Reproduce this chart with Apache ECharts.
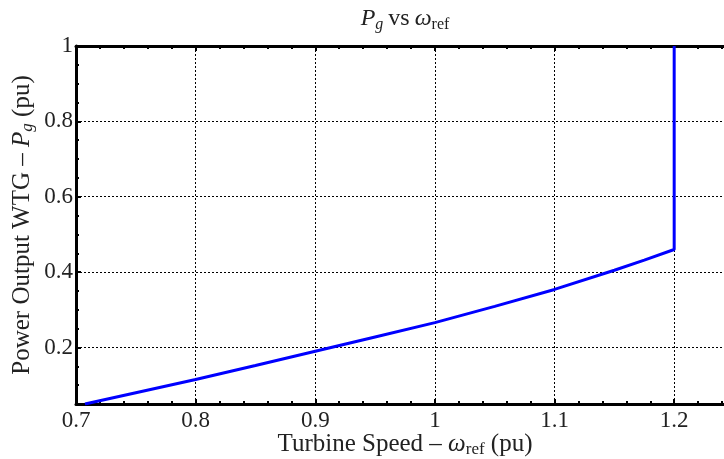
<!DOCTYPE html>
<html>
<head>
<meta charset="utf-8">
<script src="https://cdn.jsdelivr.net/npm/echarts@6/dist/echarts.min.js"></script>
<style>html,body{margin:0;padding:0;background:#fff;}#c{width:724px;height:459px;}</style>
</head>
<body>
<div id="c"></div>
<script>
// Turbine speed (pu) and generator power output (pu)
const speed = [0.7075, 0.75, 0.8, 0.85, 0.9, 0.95, 1.0, 1.05, 1.1, 1.15, 1.175, 1.2, 1.2];
const power = [0.05, 0.08, 0.115, 0.152, 0.19, 0.228, 0.266, 0.309, 0.354, 0.405, 0.432, 0.46, 1.0];
const xRange = [0.7, 1.25];
const yRange = [0.05, 1];

const FONT = 'Liberation Serif';
const data = speed.map((s, i) => [s, power[i]]);
const chart = echarts.init(document.getElementById('c'));
function mkRich(big, small, lh, slh) {
  return {
    n: {fontFamily: FONT, fontSize: big, fontWeight: 'normal', color: '#222', lineHeight: lh},
    i: {fontFamily: FONT, fontSize: big, fontWeight: 'normal', fontStyle: 'italic', color: '#222', lineHeight: lh},
    si: {fontFamily: FONT, fontSize: small, fontWeight: 'normal', fontStyle: 'italic', color: '#222', lineHeight: slh, verticalAlign: 'bottom'},
    s: {fontFamily: FONT, fontSize: small, fontWeight: 'normal', color: '#222', lineHeight: slh, verticalAlign: 'bottom'}
  };
}
const rich = mkRich(25, 17, 28, 15);
const axisLineStyle = {color: '#000', width: 3};
chart.setOption({
  animation: false,
  backgroundColor: '#fff',
  title: {
    text: '{i|P}{si|g} {n|vs} {i|ω}{s|ref}',
    left: 400, top: 0, textAlign: 'center',
    textStyle: {fontWeight: 'normal', rich: mkRich(24, 16, 28, 15)}
  },
  grid: {left: 76, top: 46, bottom: 55, right: -10, containLabel: false, outerBoundsMode: 'none'},
  xAxis: [{
    type: 'value', min: xRange[0], max: xRange[1], interval: 0.1,
    name: '{n|Turbine Speed – }{i|ω}{s|ref}{n| (pu)}',
    nameLocation: 'middle', nameGap: 26, nameMoveOverlap: false,
    nameTextStyle: {rich: rich},
    axisLine: {lineStyle: axisLineStyle},
    axisTick: {inside: true, length: 5, lineStyle: {color: '#000', width: 2}},
    minorTick: {show: true, splitNumber: 5, length: 3, lineStyle: {color: '#000', width: 2}},
    axisLabel: {fontFamily: FONT, fontSize: 23, color: '#222', margin: 5,
      formatter: v => (Math.abs(v - 1.25) < 1e-6 ? '' : String(+v.toFixed(2)))},
    splitLine: {show: true, lineStyle: {color: '#000', width: 1, type: [2, 2]}}
  }, {
    type: 'value', min: xRange[0], max: xRange[1], interval: 0.1, position: 'top',
    axisLine: {lineStyle: axisLineStyle},
    axisTick: {inside: true, length: 5, lineStyle: {color: '#000', width: 2}},
    minorTick: {show: true, splitNumber: 5, length: 3, lineStyle: {color: '#000', width: 2}},
    axisLabel: {show: false}, splitLine: {show: false}
  }],
  yAxis: [{
    type: 'value', min: yRange[0], max: yRange[1], splitNumber: 5,
    name: '{n|Power Output WTG – }{i|P}{si|g}{n| (pu)}',
    nameLocation: 'middle', nameGap: 40, nameRotate: 90, nameMoveOverlap: false,
    nameTextStyle: {rich: rich},
    axisLine: {lineStyle: axisLineStyle},
    axisTick: {inside: true, length: 5, lineStyle: {color: '#000', width: 2}},
    minorTick: {show: true, splitNumber: 4, length: 3, lineStyle: {color: '#000', width: 2}},
    axisLabel: {fontFamily: FONT, fontSize: 23, color: '#222', margin: 3, showMinLabel: false,
      formatter: v => String(+v.toFixed(2))},
    splitLine: {show: true, lineStyle: {color: '#000', width: 1, type: [2, 2]}}
  }],
  series: [{
    type: 'line', data: data, showSymbol: false, clip: true,
    lineStyle: {color: '#0000ff', width: 3}, itemStyle: {color: '#0000ff'}
  }]
});
</script>
</body>
</html>
